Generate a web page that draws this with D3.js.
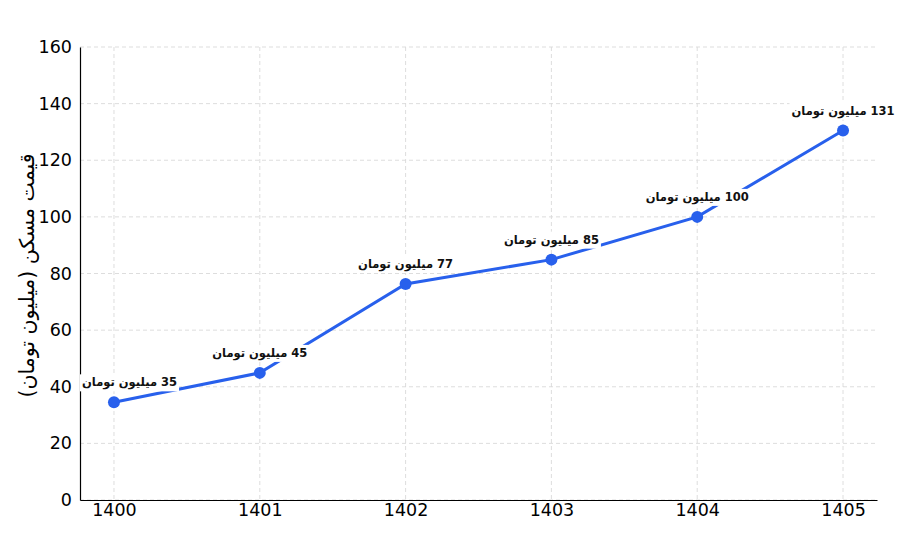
<!DOCTYPE html>
<html>
<head>
<meta charset="utf-8">
<script src="https://cdn.jsdelivr.net/npm/d3@7"></script>
<style>
  html, body { margin: 0; padding: 0; background: #fff; }
  svg { display: block; font-family: "DejaVu Sans", sans-serif; }
</style>
</head>
<body>
<svg id="chart" width="900" height="537"></svg>
<script>
/* Line chart: house price per year (million toman) */
var years = [1400, 1401, 1402, 1403, 1404, 1405];
var prices = [34.5, 44.9, 76.3, 84.9, 100.0, 130.5];
var priceLabels = ['35', '45', '77', '85', '100', '131'];
var yTicks = [0, 20, 40, 60, 80, 100, 120, 140, 160];
var unitText = 'میلیون تومان';
var yTitle = 'قیمت مسکن (میلیون تومان)';

var W = 900, H = 537;
var margin = { top: 47, right: 23, bottom: 37, left: 80 };
var blue = '#2860ec';

var svg = d3.select('#chart');
var g = svg.append('g').attr('transform', 'translate(' + margin.left + ',' + margin.top + ')');
var iw = W - margin.left - margin.right;
var ih = H - margin.top - margin.bottom;

var x = d3.scaleLinear().domain([1399.767, 1405.233]).range([0, iw]);
var y = d3.scaleLinear().domain([0, 160]).range([ih, 0]);

// grid
g.append('g').selectAll('line').data(yTicks).enter().append('line')
  .attr('x1', 0).attr('x2', iw)
  .attr('y1', function (d) { return y(d); }).attr('y2', function (d) { return y(d); })
  .attr('stroke', '#d9d9d9').attr('stroke-width', 0.9).attr('stroke-dasharray', '4,3');
g.append('g').selectAll('line').data(years).enter().append('line')
  .attr('x1', function (d) { return x(d); }).attr('x2', function (d) { return x(d); })
  .attr('y1', 0).attr('y2', ih)
  .attr('stroke', '#d9d9d9').attr('stroke-width', 0.9).attr('stroke-dasharray', '4,3');

// axes
var xAxis = g.append('g').attr('transform', 'translate(0,' + ih + ')')
  .call(d3.axisBottom(x).tickValues(years).tickFormat(d3.format('d')).tickSize(0).tickPadding(4));
var yAxis = g.append('g')
  .call(d3.axisLeft(y).tickValues(yTicks).tickSize(0).tickPadding(8));
[xAxis, yAxis].forEach(function (a) {
  a.select('.domain').attr('stroke', '#000').attr('stroke-width', 1.2);
  a.selectAll('text').attr('font-family', '"DejaVu Sans", sans-serif')
    .attr('font-size', 17.5).attr('fill', '#000');
});

// y title
svg.append('text')
  .attr('transform', 'translate(27,' + (margin.top + ih / 2 + 2) + ') rotate(-90)')
  .attr('text-anchor', 'middle').attr('dy', '0.35em')
  .attr('direction', 'rtl')
  .attr('font-size', 20.5).attr('fill', '#000')
  .text(yTitle);

var pts = years.map(function (yr, i) { return { yr: yr, v: prices[i], lab: priceLabels[i] }; });

// line
g.append('path').datum(pts)
  .attr('fill', 'none').attr('stroke', blue).attr('stroke-width', 3)
  .attr('d', d3.line().x(function (d) { return x(d.yr); }).y(function (d) { return y(d.v); }));

// markers
g.selectAll('circle.pt').data(pts).enter().append('circle')
  .attr('class', 'pt')
  .attr('cx', function (d) { return x(d.yr); }).attr('cy', function (d) { return y(d.v); })
  .attr('r', 6).attr('fill', blue);

// value labels with white box
var labs = g.selectAll('g.lab').data(pts).enter().append('g').attr('class', 'lab');
labs.each(function (d) {
  var el = d3.select(this);
  var t = el.append('text')
    .attr('x', x(d.yr)).attr('y', y(d.v) - 20)
    .attr('dy', '0.35em')
    .attr('text-anchor', 'middle').attr('direction', 'rtl')
    .attr('font-size', 11.5).attr('font-weight', 'bold').attr('fill', '#111')
    .text(d.lab + ' ' + unitText);
  var bb = t.node().getBBox();
  if (bb.x < 2) { t.attr('x', x(d.yr) + (2 - bb.x)); bb = t.node().getBBox(); }
  el.insert('rect', 'text')
    .attr('x', bb.x - 2).attr('y', bb.y - 1)
    .attr('width', bb.width + 4).attr('height', bb.height + 2)
    .attr('fill', '#fff');
});
</script>
</body>
</html>
